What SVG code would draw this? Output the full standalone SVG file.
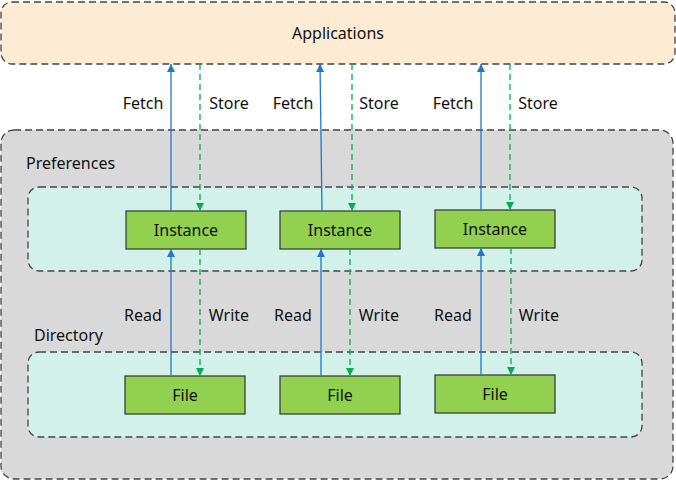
<svg xmlns="http://www.w3.org/2000/svg" width="676" height="481" viewBox="0 0 676 481">
<style>
text{font-family:"Noto Sans","Liberation Sans",sans-serif;font-size:16px;fill:#111}
.lbl{text-anchor:middle;dominant-baseline:central}
.grp{stroke:#444;stroke-width:1.3;stroke-dasharray:7 4}
.box{fill:#92d050;stroke:#333;stroke-width:1.2}
.fetch{stroke:#1f78c8;stroke-width:1.3;fill:none}
.store{stroke:#00b050;stroke-width:1.3;stroke-dasharray:6 4;fill:none}
</style>
<defs>
<marker id="ab" viewBox="0 0 10 10" refX="10" refY="5" markerWidth="8" markerHeight="8" markerUnits="userSpaceOnUse" orient="auto"><path d="M0,0L10,5L0,10z" fill="#1f78c8"/></marker>
<marker id="ag" viewBox="0 0 10 10" refX="10" refY="5" markerWidth="8" markerHeight="8" markerUnits="userSpaceOnUse" orient="auto"><path d="M0,0L10,5L0,10z" fill="#00b050"/></marker>
</defs>
<rect width="676" height="481" fill="#fff"/>
<g id="applications">
<rect class="grp" x="1" y="2" width="674" height="62" rx="11" fill="#fdebd3"/>
<text class="lbl" x="338" y="33">Applications</text>
</g>
<g id="preferences-container">
<rect class="grp" x="1" y="130" width="672" height="349" rx="13" fill="#d9d9d9"/>
<text x="26" y="169">Preferences</text>
<text x="34" y="341">Directory</text>
</g>
<g id="preferences">
<rect class="grp" x="28" y="187" width="614" height="84" rx="11" fill="#d1f1ea"/>
</g>
<g id="directory">
<rect class="grp" x="28" y="352" width="614" height="85" rx="11" fill="#d1f1ea"/>
</g>
<g id="instance1"><rect class="box" x="126" y="211" width="120" height="38"/><text class="lbl" x="186" y="230">Instance</text></g>
<g id="instance2"><rect class="box" x="280" y="211" width="120" height="38"/><text class="lbl" x="340" y="230">Instance</text></g>
<g id="instance3"><rect class="box" x="435" y="210" width="120" height="38"/><text class="lbl" x="495" y="229">Instance</text></g>
<g id="file1"><rect class="box" x="125" y="376" width="120" height="38"/><text class="lbl" x="185" y="395">File</text></g>
<g id="file2"><rect class="box" x="280" y="376" width="120" height="38"/><text class="lbl" x="340" y="395">File</text></g>
<g id="file3"><rect class="box" x="435" y="375" width="120" height="38"/><text class="lbl" x="495" y="394">File</text></g>
<g id="connectors">
<line class="fetch" x1="171" y1="211" x2="171" y2="64" marker-end="url(#ab)"/>
<line class="fetch" x1="322" y1="211" x2="320" y2="64" marker-end="url(#ab)"/>
<line class="fetch" x1="481" y1="210" x2="481" y2="64" marker-end="url(#ab)"/>
<line class="store" x1="200" y1="64" x2="200" y2="211" marker-end="url(#ag)"/>
<line class="store" x1="352" y1="64" x2="352" y2="211" marker-end="url(#ag)"/>
<line class="store" x1="510" y1="64" x2="510" y2="210" marker-end="url(#ag)"/>
<line class="fetch" x1="171" y1="376" x2="171" y2="249" marker-end="url(#ab)"/>
<line class="fetch" x1="321" y1="376" x2="321" y2="249" marker-end="url(#ab)"/>
<line class="fetch" x1="481" y1="375" x2="481" y2="248" marker-end="url(#ab)"/>
<line class="store" x1="200" y1="249" x2="200" y2="376" marker-end="url(#ag)"/>
<line class="store" x1="350" y1="249" x2="350" y2="376" marker-end="url(#ag)"/>
<line class="store" x1="511" y1="248" x2="511" y2="375" marker-end="url(#ag)"/>
<text class="lbl" x="143" y="103">Fetch</text>
<text class="lbl" x="229" y="103">Store</text>
<text class="lbl" x="293" y="103">Fetch</text>
<text class="lbl" x="379" y="103">Store</text>
<text class="lbl" x="453" y="103">Fetch</text>
<text class="lbl" x="538" y="103">Store</text>
<text class="lbl" x="143" y="315">Read</text>
<text class="lbl" x="229" y="315">Write</text>
<text class="lbl" x="293" y="315">Read</text>
<text class="lbl" x="379" y="315">Write</text>
<text class="lbl" x="453" y="315">Read</text>
<text class="lbl" x="539" y="315">Write</text>
</g>
</svg>
